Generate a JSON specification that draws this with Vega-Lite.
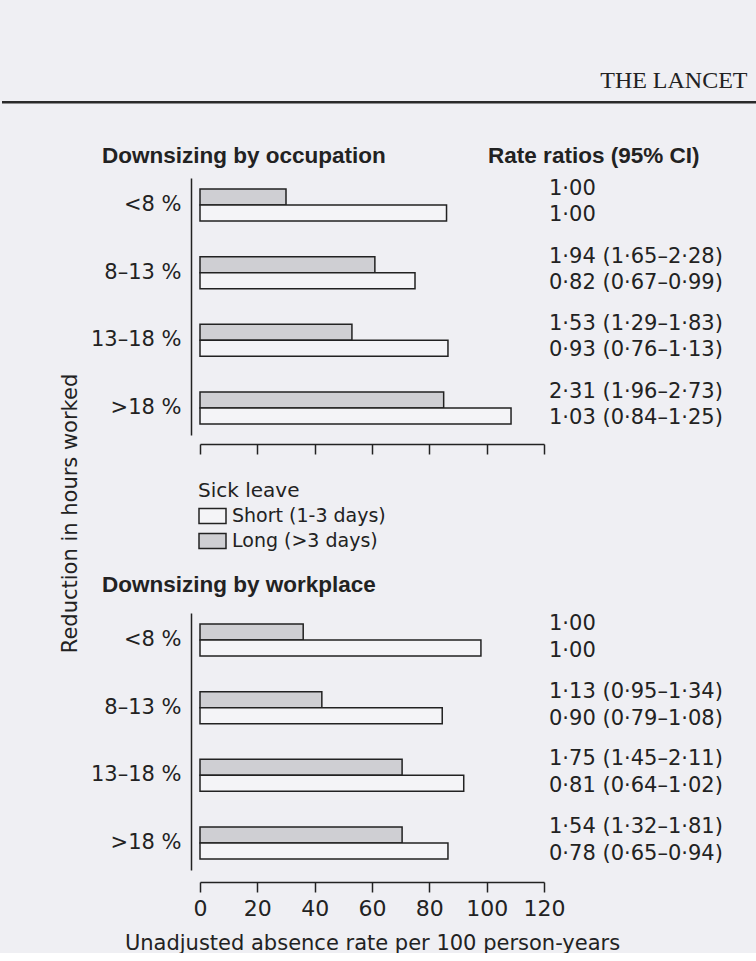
{
  "$schema": "https://vega.github.io/schema/vega-lite/v6.json",
  "background": "#efeff3",
  "padding": {"left": 0, "top": 61, "right": 0, "bottom": 0},
  "bounds": "flush",
  "spacing": 77,
  "config": {
    "view": {"stroke": null},
    "font": "DejaVu Sans",
    "text": {"color": "#222222"},
    "axis": {
      "domainColor": "#222222", "domainWidth": 1.5, "tickColor": "#222222", "tickWidth": 1.5,
      "labelColor": "#222222", "titleColor": "#222222", "grid": false,
      "labelFont": "DejaVu Sans", "titleFont": "DejaVu Sans", "titleFontWeight": "normal"
    }
  },
  "resolve": {"scale": {"fill": "independent", "yOffset": "independent"}},
  "datasets": {
    "bars": [
      {"panel": "occupation", "reduction": "<8 %", "leave": "Long (>3 days)", "rate": 30, "rr": "1·00"},
      {"panel": "occupation", "reduction": "<8 %", "leave": "Short (1-3 days)", "rate": 86, "rr": "1·00"},
      {"panel": "occupation", "reduction": "8–13 %", "leave": "Long (>3 days)", "rate": 61, "rr": "1·94 (1·65–2·28)"},
      {"panel": "occupation", "reduction": "8–13 %", "leave": "Short (1-3 days)", "rate": 75, "rr": "0·82 (0·67–0·99)"},
      {"panel": "occupation", "reduction": "13–18 %", "leave": "Long (>3 days)", "rate": 53, "rr": "1·53 (1·29–1·83)"},
      {"panel": "occupation", "reduction": "13–18 %", "leave": "Short (1-3 days)", "rate": 86.5, "rr": "0·93 (0·76–1·13)"},
      {"panel": "occupation", "reduction": ">18 %", "leave": "Long (>3 days)", "rate": 85, "rr": "2·31 (1·96–2·73)"},
      {"panel": "occupation", "reduction": ">18 %", "leave": "Short (1-3 days)", "rate": 108.5, "rr": "1·03 (0·84–1·25)"},
      {"panel": "workplace", "reduction": "<8 %", "leave": "Long (>3 days)", "rate": 36, "rr": "1·00"},
      {"panel": "workplace", "reduction": "<8 %", "leave": "Short (1-3 days)", "rate": 98, "rr": "1·00"},
      {"panel": "workplace", "reduction": "8–13 %", "leave": "Long (>3 days)", "rate": 42.5, "rr": "1·13 (0·95–1·34)"},
      {"panel": "workplace", "reduction": "8–13 %", "leave": "Short (1-3 days)", "rate": 84.5, "rr": "0·90 (0·79–1·08)"},
      {"panel": "workplace", "reduction": "13–18 %", "leave": "Long (>3 days)", "rate": 70.5, "rr": "1·75 (1·45–2·11)"},
      {"panel": "workplace", "reduction": "13–18 %", "leave": "Short (1-3 days)", "rate": 92, "rr": "0·81 (0·64–1·02)"},
      {"panel": "workplace", "reduction": ">18 %", "leave": "Long (>3 days)", "rate": 70.5, "rr": "1·54 (1·32–1·81)"},
      {"panel": "workplace", "reduction": ">18 %", "leave": "Short (1-3 days)", "rate": 86.5, "rr": "0·78 (0·65–0·94)"}
    ]
  },
  "vconcat": [
    {
      "width": 344,
      "height": 40,
      "data": {"values": [{"journal": "THE LANCET"}]},
      "layer": [
        {
          "mark": {"type": "rule", "stroke": "#2a2a2a", "strokeWidth": 2.5},
          "encoding": {
            "x": {"datum": -69.07, "type": "quantitative", "scale": {"domain": [0, 120], "nice": false, "zero": false}, "axis": null},
            "x2": {"datum": 194.65},
            "y": {"datum": -0.03, "type": "quantitative", "scale": {"domain": [0, 1], "nice": false, "zero": false}, "axis": null}
          }
        },
        {
          "mark": {"type": "text", "font": "Liberation Serif", "fontSize": 24, "align": "right", "baseline": "middle", "color": "#222222"},
          "encoding": {
            "x": {"datum": 191, "type": "quantitative"},
            "y": {"datum": 0.5, "type": "quantitative"},
            "text": {"field": "journal"}
          }
        }
      ]
    },
    {
      "width": 344,
      "height": 358,
      "data": {"name": "bars"},
      "transform": [{"filter": "datum.panel === 'occupation'"}],
      "layer": [
        {
          "mark": {"type": "bar", "stroke": "#222222", "strokeWidth": 1.5},
          "encoding": {
            "y": {
              "field": "reduction", "type": "nominal",
              "scale": {"domain": ["<8 %", "8–13 %", "13–18 %", ">18 %"], "range": [0, 257], "paddingInner": 0.526, "paddingOuter": 0.163},
              "axis": {
                "title": "Reduction in hours worked", "titleFontSize": 21, "titleAngle": -90, "titleAlign": "center", "titleBaseline": "middle",
                "titleX": -121, "titleY": 335,
                "ticks": false, "tickSize": 0, "domain": true, "offset": 9, "labelPadding": 10, "labelFontSize": 21
              }
            },
            "yOffset": {"field": "leave", "type": "nominal", "scale": {"domain": ["Long (>3 days)", "Short (1-3 days)"], "paddingInner": 0, "paddingOuter": 0}},
            "x": {
              "field": "rate", "type": "quantitative",
              "scale": {"domain": [0, 120], "nice": false},
              "axis": {"values": [0, 20, 40, 60, 80, 100, 120], "labels": false, "ticks": true, "tickSize": 10, "offset": -92, "title": null}
            },
            "fill": {
              "field": "leave", "type": "nominal",
              "scale": {"domain": ["Short (1-3 days)", "Long (>3 days)"], "range": ["#f4f4f7", "#cfcfd3"]},
              "legend": {
                "title": "Sick leave", "orient": "none", "legendX": -2, "legendY": 303,
                "symbolType": "M-1,-0.556H1V0.556H-1Z", "symbolSize": 729, "symbolStrokeColor": "#222222", "symbolStrokeWidth": 1.5,
                "clipHeight": 20, "rowPadding": 5, "labelOffset": 5, "labelFontSize": 19, "titleFontSize": 20, "labelLimit": 400,
                "titleFontWeight": "normal", "titlePadding": 5, "labelFont": "DejaVu Sans", "titleFont": "DejaVu Sans",
                "labelColor": "#222222", "titleColor": "#222222"
              }
            }
          }
        },
        {
          "transform": [{"filter": "datum.leave === 'Long (>3 days)'"}],
          "mark": {"type": "text", "align": "left", "baseline": "middle", "dx": 5, "dy": -8, "fontSize": 21, "font": "DejaVu Sans"},
          "encoding": {
            "y": {"field": "reduction", "type": "nominal"},
            "yOffset": {"field": "leave", "type": "nominal"},
            "x": {"datum": 120, "type": "quantitative"},
            "text": {"field": "rr"}
          }
        },
        {
          "transform": [{"filter": "datum.leave === 'Short (1-3 days)'"}],
          "mark": {"type": "text", "align": "left", "baseline": "middle", "dx": 5, "dy": 2, "fontSize": 21, "font": "DejaVu Sans"},
          "encoding": {
            "y": {"field": "reduction", "type": "nominal"},
            "yOffset": {"field": "leave", "type": "nominal"},
            "x": {"datum": 120, "type": "quantitative"},
            "text": {"field": "rr"}
          }
        },
        {
          "data": {"values": [{"panel": "occupation", "heading": "Downsizing by occupation"}]},
          "mark": {"type": "text", "align": "left", "baseline": "middle", "dy": -49, "fontSize": 22.5, "fontWeight": "bold", "font": "Liberation Sans"},
          "encoding": {
            "y": {"datum": "<8 %", "type": "nominal"},
            "x": {"datum": -34.19, "type": "quantitative"},
            "text": {"field": "heading"}
          }
        },
        {
          "data": {"values": [{"panel": "occupation", "heading": "Rate ratios (95% CI)"}]},
          "mark": {"type": "text", "align": "left", "baseline": "middle", "dy": -49, "fontSize": 22.5, "fontWeight": "bold", "font": "Liberation Sans"},
          "encoding": {
            "y": {"datum": "<8 %", "type": "nominal"},
            "x": {"datum": 100.5, "type": "quantitative"},
            "text": {"field": "heading"}
          }
        }
      ]
    },
    {
      "width": 344,
      "height": 257,
      "data": {"name": "bars"},
      "transform": [{"filter": "datum.panel === 'workplace'"}],
      "layer": [
        {
          "mark": {"type": "bar", "stroke": "#222222", "strokeWidth": 1.5},
          "encoding": {
            "y": {
              "field": "reduction", "type": "nominal",
              "scale": {"domain": ["<8 %", "8–13 %", "13–18 %", ">18 %"], "paddingInner": 0.526, "paddingOuter": 0.163},
              "axis": {"title": null, "ticks": false, "tickSize": 0, "domain": true, "offset": 9, "labelPadding": 10, "labelFontSize": 21}
            },
            "yOffset": {"field": "leave", "type": "nominal", "scale": {"domain": ["Long (>3 days)", "Short (1-3 days)"], "paddingInner": 0, "paddingOuter": 0}},
            "x": {
              "field": "rate", "type": "quantitative",
              "scale": {"domain": [0, 120], "nice": false},
              "axis": {
                "values": [0, 20, 40, 60, 80, 100, 120], "tickSize": 10, "offset": 12, "labelFontSize": 22, "labelPadding": 6,
                "labelOverlap": false, "labelFlush": false,
                "title": "Unadjusted absence rate per 100 person-years", "titleFontSize": 21, "titlePadding": 13
              }
            },
            "fill": {
              "field": "leave", "type": "nominal",
              "scale": {"domain": ["Short (1-3 days)", "Long (>3 days)"], "range": ["#f4f4f7", "#cfcfd3"]},
              "legend": null
            }
          }
        },
        {
          "transform": [{"filter": "datum.leave === 'Long (>3 days)'"}],
          "mark": {"type": "text", "align": "left", "baseline": "middle", "dx": 5, "dy": -8, "fontSize": 21, "font": "DejaVu Sans"},
          "encoding": {
            "y": {"field": "reduction", "type": "nominal"},
            "yOffset": {"field": "leave", "type": "nominal"},
            "x": {"datum": 120, "type": "quantitative"},
            "text": {"field": "rr"}
          }
        },
        {
          "transform": [{"filter": "datum.leave === 'Short (1-3 days)'"}],
          "mark": {"type": "text", "align": "left", "baseline": "middle", "dx": 5, "dy": 3, "fontSize": 21, "font": "DejaVu Sans"},
          "encoding": {
            "y": {"field": "reduction", "type": "nominal"},
            "yOffset": {"field": "leave", "type": "nominal"},
            "x": {"datum": 120, "type": "quantitative"},
            "text": {"field": "rr"}
          }
        },
        {
          "data": {"values": [{"panel": "workplace", "heading": "Downsizing by workplace"}]},
          "mark": {"type": "text", "align": "left", "baseline": "middle", "dy": -55, "fontSize": 22.5, "fontWeight": "bold", "font": "Liberation Sans"},
          "encoding": {
            "y": {"datum": "<8 %", "type": "nominal"},
            "x": {"datum": -34.19, "type": "quantitative"},
            "text": {"field": "heading"}
          }
        }
      ]
    }
  ]
}
